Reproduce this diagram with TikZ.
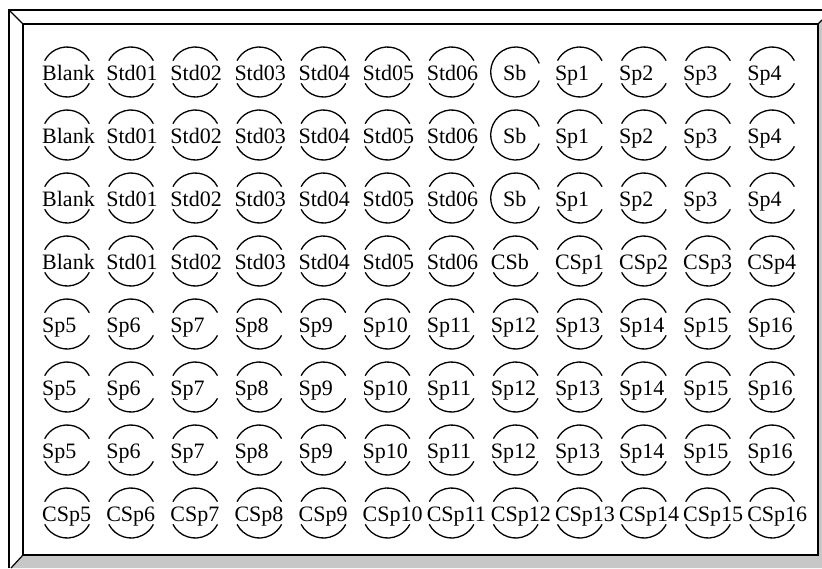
\documentclass[tikz,border=0pt]{standalone}
\usepackage{fontspec}
\setmainfont{Liberation Serif}
\usetikzlibrary{calc}
\tikzset{
  wellarc/.style={line width=1.3pt},
  frameline/.style={line width=1.6pt},
  lbl/.style={font=\fontsize{22}{22}\selectfont, inner sep=0pt, anchor=base west},
  lblc/.style={font=\fontsize{22}{22}\selectfont, inner sep=0pt, anchor=base}
}
\def\sbname{Sb}
\newcommand\wellrow[2]{%
  \foreach \t [count=\c from 0] in {#2} {%
    \coordinate (c#1-\c) at ({67+64.1*\c},{-(72+63*#1)});
    \edef\cur{\t}%
    \ifx\cur\sbname
      \draw[wellarc] ($(c#1-\c)+(20:25)$) arc (20:340:25);
      \node[lblc] (w#1-\c) at ($(c#1-\c)+(-1,-8)$) {\t};
    \else
      \draw[wellarc] ($(c#1-\c)+(27:25)$) arc (27:153:25);
      \draw[wellarc] ($(c#1-\c)+(207:25)$) arc (207:333:25);
      \node[lbl] (w#1-\c) at ($(c#1-\c)+(-25,-8)$) {\t};
    \fi
  }%
}
\begin{document}
\begin{tikzpicture}[x=1pt,y=1pt]
\useasboundingbox (0,0) rectangle (822,-568);
% frame
\fill[black!22] (23,-555) -- (818,-555) -- (818,-24) -- (822,-20) -- (822,-568) -- (11,-568) -- cycle;
\draw[frameline] (9,-568) -- (9,-10) -- (822,-10);
\draw[frameline] (23,-555) rectangle (818,-24);
\draw[line width=1.2pt] (9,-10) -- (23,-24);
\draw[line width=1.2pt] (23,-555) -- (11,-568);
\draw[line width=1.2pt] (818,-24) -- (822,-20);
% wells
\wellrow{0}{Blank,Std01,Std02,Std03,Std04,Std05,Std06,Sb,Sp1,Sp2,Sp3,Sp4}
\wellrow{1}{Blank,Std01,Std02,Std03,Std04,Std05,Std06,Sb,Sp1,Sp2,Sp3,Sp4}
\wellrow{2}{Blank,Std01,Std02,Std03,Std04,Std05,Std06,Sb,Sp1,Sp2,Sp3,Sp4}
\wellrow{3}{Blank,Std01,Std02,Std03,Std04,Std05,Std06,CSb,CSp1,CSp2,CSp3,CSp4}
\wellrow{4}{Sp5,Sp6,Sp7,Sp8,Sp9,Sp10,Sp11,Sp12,Sp13,Sp14,Sp15,Sp16}
\wellrow{5}{Sp5,Sp6,Sp7,Sp8,Sp9,Sp10,Sp11,Sp12,Sp13,Sp14,Sp15,Sp16}
\wellrow{6}{Sp5,Sp6,Sp7,Sp8,Sp9,Sp10,Sp11,Sp12,Sp13,Sp14,Sp15,Sp16}
\wellrow{7}{CSp5,CSp6,CSp7,CSp8,CSp9,CSp10,CSp11,CSp12,CSp13,CSp14,CSp15,CSp16}
\end{tikzpicture}
\end{document}
